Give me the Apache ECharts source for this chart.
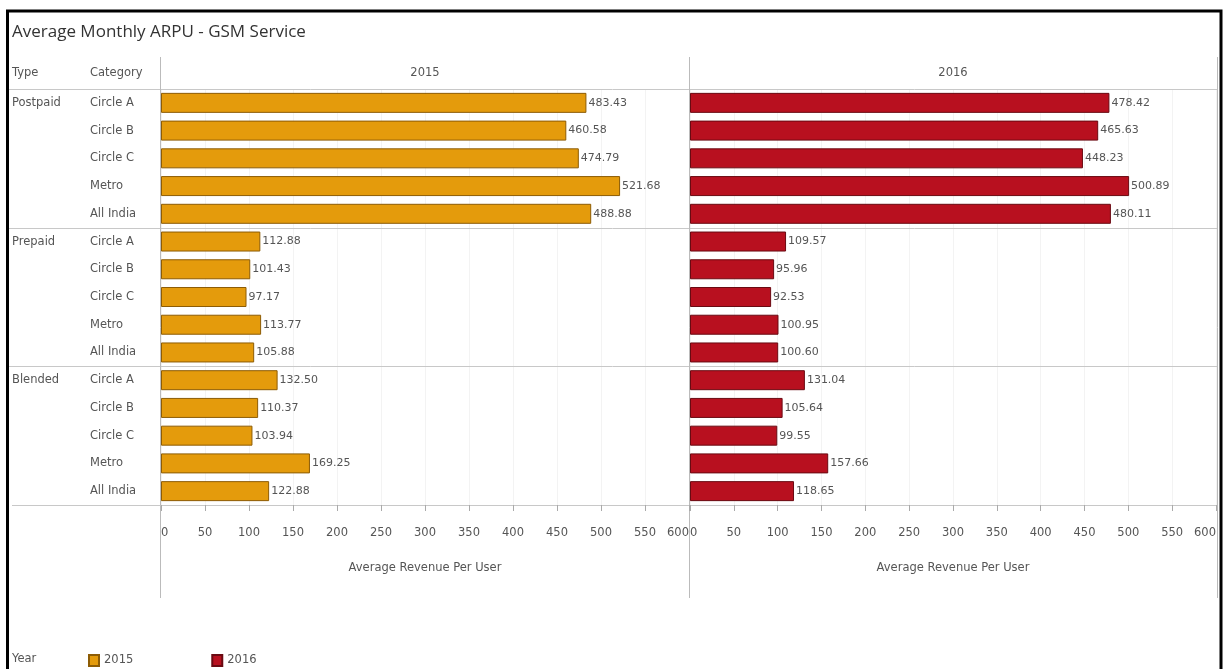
<!DOCTYPE html>
<html>
<head>
<meta charset="utf-8">
<title>Average Monthly ARPU - GSM Service</title>
<script src="https://cdn.jsdelivr.net/npm/echarts@6/dist/echarts.min.js"></script>
<style>
  html, body { margin: 0; padding: 0; background: #fff; }
  #chart { width: 1224px; height: 669px; }
</style>
</head>
<body>
<div id="chart"></div>
<script>
// Row structure
const types = ['Postpaid', 'Prepaid', 'Blended'];
const categories = ['Circle A', 'Circle B', 'Circle C', 'Metro', 'All India'];
const years = ['2015', '2016'];

// Average revenue per user, rows ordered type by type
const arpu2015 = [483.43, 460.58, 474.79, 521.68, 488.88,
                  112.88, 101.43, 97.17, 113.77, 105.88,
                  132.50, 110.37, 103.94, 169.25, 122.88];
const arpu2016 = [478.42, 465.63, 448.23, 500.89, 480.11,
                  109.57, 95.96, 92.53, 100.95, 100.60,
                  131.04, 105.64, 99.55, 157.66, 118.65];

const xTicks = { min: 0, max: 600, interval: 50 };

const FONT = 'DejaVu Sans';
const TXT = '#555';
const LINE = '#c8c8c8';
const colors = ['#E49B0C', '#B8101F'];
const borders = ['#8d5c05', '#6a0a12'];

const rowCats = [];
const rowTypes = [];
types.forEach(t => categories.forEach((c, i) => {
  rowCats.push(c);
  rowTypes.push(i === 0 ? t : '');
}));
const rowKeys = rowCats.map((c, i) => i);

const chart = echarts.init(document.getElementById('chart'));

const grids = [
  { left: 161, width: 528, top: 89, height: 416 },
  { left: 690, width: 526, top: 89, height: 416 }
];

function xAxisFor(i) {
  return {
    type: 'value', gridIndex: i, position: 'bottom',
    min: xTicks.min, max: xTicks.max, interval: xTicks.interval,
    name: 'Average Revenue Per User', nameLocation: 'middle', nameGap: 57,
    nameTextStyle: { fontFamily: FONT, fontSize: 11.5, color: TXT },
    axisLine: { show: true, lineStyle: { color: LINE } },
    axisTick: { show: true, length: 6, lineStyle: { color: '#aaa' } },
    axisLabel: { fontFamily: FONT, fontSize: 11.5, color: TXT, margin: 22,
                 alignMinLabel: 'left', alignMaxLabel: 'right' },
    splitLine: { show: true, lineStyle: { color: '#f3f3f3' } }
  };
}

const catAxisBase = {
  type: 'category', inverse: true, data: rowKeys, position: 'left',
  axisLine: { show: false }, axisTick: { show: false },
  splitLine: { show: false }
};

const yearData = [arpu2015, arpu2016];

chart.setOption({
  animation: false,
  title: {
    text: 'Average Monthly ARPU - GSM Service',
    left: 7, top: 19,
    textStyle: { fontFamily: 'Open Sans', fontSize: 17, fontWeight: 'normal', color: '#333' }
  },
  legend: {
    data: years, left: 83, top: 649, itemWidth: 10, itemHeight: 11,
    itemGap: 78, icon: 'rect',
    textStyle: { fontFamily: FONT, fontSize: 11.5, color: TXT }
  },
  grid: grids,
  xAxis: [xAxisFor(0), xAxisFor(1)],
  yAxis: [
    Object.assign({}, catAxisBase, { gridIndex: 0,
      axisLabel: { interval: 0, align: 'left', margin: 71, fontFamily: FONT, fontSize: 11.5, color: TXT,
                   formatter: (v, i) => rowCats[i] } }),
    Object.assign({}, catAxisBase, { gridIndex: 0,
      axisLabel: { interval: 0, align: 'left', margin: 149, fontFamily: FONT, fontSize: 11.5, color: TXT,
                   formatter: (v, i) => rowTypes[i] } }),
    Object.assign({}, catAxisBase, { gridIndex: 1, axisLabel: { show: false } })
  ],
  series: years.map((y, k) => ({
    name: y, type: 'bar',
    xAxisIndex: k, yAxisIndex: k === 0 ? 0 : 2,
    barWidth: 20,
    data: yearData[k],
    itemStyle: { color: colors[k], borderColor: borders[k], borderWidth: 1 },
    label: {
      show: true, position: 'right', distance: 2,
      fontFamily: FONT, fontSize: 11, color: TXT,
      formatter: p => p.value.toFixed(2)
    }
  }))
});

// Frame, dividers and panel headers placed from the axis scales
function yBoundary(rowA, rowB) {
  const a = chart.convertToPixel({ yAxisIndex: 0 }, rowA);
  const b = chart.convertToPixel({ yAxisIndex: 0 }, rowB);
  return (a + b) / 2;
}
const step = chart.convertToPixel({ yAxisIndex: 0 }, 1) - chart.convertToPixel({ yAxisIndex: 0 }, 0);
const yTop = chart.convertToPixel({ yAxisIndex: 0 }, 0) - step / 2;
const yBottom = chart.convertToPixel({ yAxisIndex: 0 }, rowKeys.length - 1) + step / 2;
const sep1 = yBoundary(categories.length - 1, categories.length);
const sep2 = yBoundary(2 * categories.length - 1, 2 * categories.length);

const x0 = chart.convertToPixel({ xAxisIndex: 0 }, xTicks.min);
const x1 = chart.convertToPixel({ xAxisIndex: 1 }, xTicks.min);
const x2 = chart.convertToPixel({ xAxisIndex: 1 }, xTicks.max);
const mid0 = chart.convertToPixel({ xAxisIndex: 0 }, (xTicks.min + xTicks.max) / 2);
const mid1 = chart.convertToPixel({ xAxisIndex: 1 }, (xTicks.min + xTicks.max) / 2);

function hline(y, xa, xb) {
  return { type: 'line', silent: true, z: 0,
    shape: { x1: xa, y1: Math.round(y) + 0.5, x2: xb, y2: Math.round(y) + 0.5 },
    style: { stroke: LINE, lineWidth: 1 } };
}
function vline(x, ya, yb) {
  return { type: 'line', silent: true, z: 0,
    shape: { x1: Math.round(x) + 0.5, y1: ya, x2: Math.round(x) + 0.5, y2: yb },
    style: { stroke: '#bbb', lineWidth: 1 } };
}
function text(t, x, y, align) {
  return { type: 'text', silent: true, x: x, y: y,
    style: { text: t, fontFamily: FONT, fontSize: 11.5, fill: TXT,
             align: align || 'left', verticalAlign: 'middle' } };
}

chart.setOption({
  graphic: [
    { type: 'rect', silent: true, z: 10,
      shape: { x: 7.5, y: 11, width: 1213.5, height: 700 },
      style: { fill: null, stroke: '#000', lineWidth: 3 } },
    hline(yTop, 8, x2 + 1),
    hline(sep1, 8, x2 + 1),
    hline(sep2, 8, x2 + 1),
    hline(yBottom, 12, x2 + 1),
    vline(x0 - 1, 57, 598),
    vline(x1 - 1, 57, 598),
    vline(x2 + 1, 57, 598),
    text('Type', 12, 73),
    text('Category', 90, 73),
    text(years[0], mid0, 73, 'center'),
    text(years[1], mid1, 73, 'center'),
    text('Year', 12, 659)
  ]
});
</script>
</body>
</html>
